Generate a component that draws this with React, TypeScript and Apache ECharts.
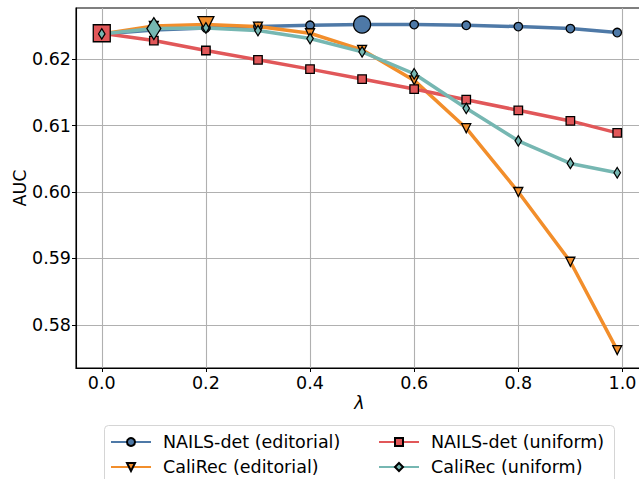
import React, { useEffect, useRef } from "react";
import * as echarts from "echarts";

const lambdas = [0, 0.1, 0.2, 0.3, 0.4, 0.5, 0.6, 0.7, 0.8, 0.9, 0.99];
const nailsEditorial = [0.6238, 0.6244, 0.6247, 0.6249, 0.6251, 0.6252, 0.6252, 0.6251, 0.6249, 0.6246, 0.624];
const caliEditorial = [0.6238, 0.625, 0.6252, 0.6249, 0.6239, 0.6214, 0.6168, 0.6096, 0.6, 0.5895, 0.5762];
const nailsUniform = [0.6239, 0.6228, 0.6213, 0.6199, 0.6185, 0.617, 0.6155, 0.6139, 0.6123, 0.6107, 0.6089];
const caliUniform = [0.6238, 0.6246, 0.6247, 0.6243, 0.6231, 0.6211, 0.6178, 0.6126, 0.6077, 0.6043, 0.6029];
const seriesNames = ["NAILS-det (editorial)", "CaliRec (editorial)", "NAILS-det (uniform)", "CaliRec (uniform)"];
const highlightIndex = [5, 2, 0, 1];

const FONT = "DejaVu Sans";
const TRI = "path://M0,0L10,0L5,10Z";
const DIA = "path://M3,0L6,5L3,10L0,5Z";

export default function App() {
  const ref = useRef<HTMLDivElement>(null);
  useEffect(() => {
    document.body.style.margin = "0";
    const chart = echarts.init(ref.current!, null, { renderer: "svg" });
    const defs = [
      { data: nailsEditorial, color: "#4e79a7", symbol: "circle", size: 8.5, big: 17 },
      { data: caliEditorial, color: "#f28e2b", symbol: TRI, size: [9, 9], big: [16, 16] },
      { data: nailsUniform, color: "#e15759", symbol: "rect", size: 8.5, big: 17 },
      { data: caliUniform, color: "#76b7b2", symbol: DIA, size: [6.5, 10.5], big: [14, 22] },
    ];
    const series = defs.map((d, si) => ({
      type: "line",
      name: seriesNames[si],
      symbol: d.symbol,
      symbolSize: d.size,
      showAllSymbol: true,
      lineStyle: { color: d.color, width: 3.5 },
      itemStyle: { color: d.color, borderColor: "#000", borderWidth: 1.3 },
      emphasis: { disabled: true },
      data: lambdas.map((x, i) =>
        i === highlightIndex[si] ? { value: [x, d.data[i]], symbolSize: d.big } : { value: [x, d.data[i]] }
      ),
    }));
    const legendCommon = {
      orient: "vertical",
      top: 432,
      itemWidth: 40,
      itemHeight: 10,
      itemGap: 5,
      padding: 0,
      selectedMode: false,
      textStyle: { fontFamily: FONT, fontSize: 17.5, color: "#000", lineHeight: 20 },
    };
    chart.setOption({
      animation: false,
      backgroundColor: "#fff",
      grid: {
        left: 76,
        top: 8,
        right: -4,
        bottom: 111,
        outerBoundsMode: "none",
        containLabel: false,
        show: true,
        borderColor: "#000",
        borderWidth: 1.1,
        backgroundColor: "transparent",
      },
      xAxis: {
        type: "value",
        min: -0.0495,
        max: 1.0395,
        name: "λ",
        nameLocation: "middle",
        nameGap: 26,
        nameMoveOverlap: false,
        nameTextStyle: { fontFamily: FONT, fontSize: 17.5, fontStyle: "italic", color: "#000" },
        axisLine: { onZero: false, lineStyle: { color: "#000", width: 1.1 } },
        axisTick: { show: true, length: 4, lineStyle: { color: "#000" } },
        axisLabel: {
          showMinLabel: false,
          showMaxLabel: false,
          margin: 6,
          fontFamily: FONT,
          fontSize: 17.5,
          color: "#000",
          formatter: (v: number) => v.toFixed(1),
        },
        splitLine: { show: true, showMinLine: false, showMaxLine: false, lineStyle: { color: "#b0b0b0", width: 1.1 } },
      },
      yAxis: {
        type: "value",
        min: 0.5735,
        max: 0.6277,
        name: "AUC",
        nameLocation: "middle",
        nameGap: 47,
        nameMoveOverlap: false,
        nameRotate: 90,
        nameTextStyle: { fontFamily: FONT, fontSize: 17.5, color: "#000" },
        axisLine: { show: true, onZero: false, lineStyle: { color: "#000", width: 1.1 } },
        axisTick: { show: true, length: 4, lineStyle: { color: "#000" } },
        axisLabel: {
          showMinLabel: false,
          showMaxLabel: false,
          margin: 5,
          fontFamily: FONT,
          fontSize: 17.5,
          color: "#000",
          formatter: (v: number) => v.toFixed(2),
        },
        splitLine: { show: true, showMinLine: false, showMaxLine: false, lineStyle: { color: "#b0b0b0", width: 1.1 } },
      },
      legend: [
        { ...legendCommon, left: 110, data: [seriesNames[0], seriesNames[1]], textStyle: { ...legendCommon.textStyle, padding: [0, 0, 0, 7] } },
        { ...legendCommon, left: 378, data: [seriesNames[2], seriesNames[3]], textStyle: { ...legendCommon.textStyle, padding: [0, 0, 0, 7] } },
      ],
      graphic: [
        {
          type: "rect",
          z: -1,
          shape: { x: 104.5, y: 425.5, width: 510, height: 70, r: 4 },
          style: { fill: "#fff", stroke: "#d5d5d5", lineWidth: 1 },
        },
      ],
      series,
    });
    return () => chart.dispose();
  }, []);
  return <div ref={ref} style={{ position: "absolute", left: 0, top: 0, width: 639, height: 479 }} />;
}
